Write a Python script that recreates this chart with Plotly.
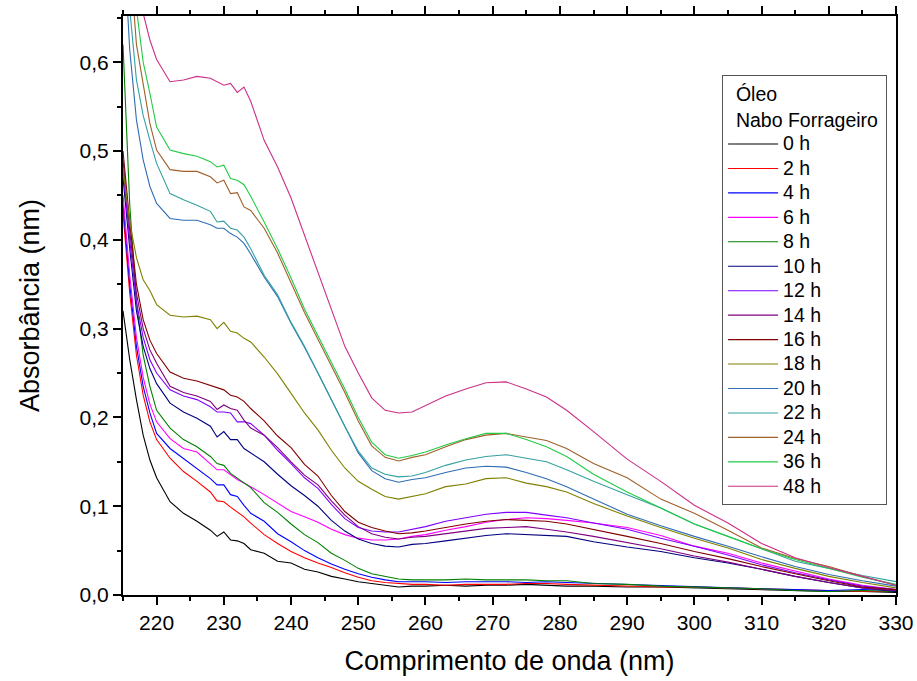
import plotly.graph_objects as go

wavelength = [215, 216, 217, 218, 219, 220, 222, 224, 226, 228, 229, 230, 231, 232, 233, 234,
              236, 238, 240, 242, 244, 246, 248, 250, 252, 254, 256, 258, 260,
              263, 266, 269, 272, 275, 278, 281, 285, 290, 295, 300, 305, 310, 315, 320, 325, 330]

h0 = [0.32, 0.265, 0.22, 0.18, 0.152, 0.132, 0.105, 0.092, 0.083, 0.073, 0.066, 0.071, 0.062, 0.061, 0.058, 0.051,
      0.047, 0.038, 0.036, 0.029, 0.026, 0.021, 0.018, 0.015, 0.013, 0.011, 0.009, 0.010, 0.010,
      0.011, 0.010, 0.011, 0.011, 0.012, 0.011, 0.010, 0.010, 0.009, 0.009, 0.008, 0.007, 0.006, 0.005, 0.004, 0.004, 0.003]
h2 = [0.43, 0.34, 0.27, 0.225, 0.195, 0.175, 0.154, 0.139, 0.128, 0.116, 0.106, 0.105, 0.099, 0.094, 0.088, 0.081,
      0.068, 0.058, 0.049, 0.042, 0.036, 0.031, 0.025, 0.020, 0.016, 0.014, 0.013, 0.012, 0.012,
      0.011, 0.012, 0.012, 0.012, 0.013, 0.013, 0.012, 0.011, 0.010, 0.009, 0.009, 0.008, 0.007, 0.006, 0.005, 0.004, 0.004]
h4 = [0.44, 0.35, 0.28, 0.235, 0.205, 0.182, 0.165, 0.154, 0.143, 0.131, 0.124, 0.124, 0.113, 0.111, 0.101, 0.092,
      0.083, 0.069, 0.060, 0.050, 0.042, 0.035, 0.029, 0.024, 0.020, 0.017, 0.015, 0.015, 0.015,
      0.014, 0.015, 0.015, 0.015, 0.014, 0.015, 0.014, 0.013, 0.012, 0.010, 0.009, 0.008, 0.007, 0.006, 0.005, 0.006, 0.005]
h6 = [0.45, 0.36, 0.29, 0.245, 0.215, 0.195, 0.176, 0.165, 0.161, 0.148, 0.141, 0.141, 0.135, 0.130, 0.126, 0.122,
      0.113, 0.103, 0.094, 0.088, 0.082, 0.074, 0.068, 0.064, 0.062, 0.062, 0.063, 0.066, 0.068,
      0.073, 0.077, 0.082, 0.085, 0.087, 0.086, 0.084, 0.081, 0.076, 0.067, 0.055, 0.047, 0.036, 0.027, 0.018, 0.011, 0.006]
h8 = [0.62, 0.44, 0.33, 0.27, 0.235, 0.208, 0.188, 0.175, 0.167, 0.156, 0.148, 0.146, 0.137, 0.132, 0.126, 0.121,
      0.104, 0.093, 0.080, 0.068, 0.059, 0.047, 0.039, 0.030, 0.024, 0.021, 0.018, 0.017, 0.017,
      0.017, 0.018, 0.017, 0.017, 0.017, 0.016, 0.016, 0.013, 0.012, 0.010, 0.009, 0.008, 0.007, 0.005, 0.004, 0.005, 0.004]
h10 = [0.47, 0.39, 0.32, 0.28, 0.255, 0.238, 0.216, 0.206, 0.199, 0.190, 0.178, 0.184, 0.175, 0.175, 0.165, 0.160,
       0.150, 0.136, 0.123, 0.112, 0.100, 0.084, 0.072, 0.063, 0.058, 0.055, 0.054, 0.057, 0.058,
       0.061, 0.064, 0.067, 0.069, 0.068, 0.067, 0.066, 0.060, 0.054, 0.049, 0.042, 0.036, 0.029, 0.021, 0.014, 0.008, 0.004]
h12 = [0.48, 0.40, 0.33, 0.29, 0.265, 0.25, 0.231, 0.224, 0.220, 0.212, 0.206, 0.206, 0.205, 0.195, 0.195, 0.193,
       0.180, 0.163, 0.148, 0.132, 0.120, 0.102, 0.086, 0.076, 0.072, 0.071, 0.071, 0.074, 0.077,
       0.083, 0.087, 0.091, 0.093, 0.093, 0.090, 0.087, 0.081, 0.074, 0.064, 0.055, 0.045, 0.034, 0.025, 0.017, 0.010, 0.006]
h14 = [0.49, 0.41, 0.34, 0.30, 0.276, 0.261, 0.235, 0.228, 0.224, 0.218, 0.209, 0.214, 0.210, 0.208, 0.197, 0.188,
       0.180, 0.166, 0.150, 0.135, 0.124, 0.106, 0.090, 0.077, 0.069, 0.065, 0.063, 0.065, 0.066,
       0.069, 0.072, 0.075, 0.076, 0.077, 0.074, 0.071, 0.066, 0.059, 0.052, 0.044, 0.037, 0.029, 0.021, 0.014, 0.008, 0.005]
h16 = [0.50, 0.42, 0.35, 0.31, 0.287, 0.272, 0.251, 0.244, 0.241, 0.236, 0.233, 0.231, 0.225, 0.223, 0.218, 0.210,
       0.196, 0.179, 0.166, 0.147, 0.134, 0.112, 0.094, 0.082, 0.076, 0.072, 0.069, 0.070, 0.072,
       0.076, 0.080, 0.083, 0.085, 0.084, 0.083, 0.080, 0.074, 0.066, 0.058, 0.049, 0.041, 0.032, 0.024, 0.016, 0.009, 0.006]
h18 = [0.48, 0.42, 0.38, 0.355, 0.343, 0.327, 0.315, 0.313, 0.314, 0.310, 0.300, 0.307, 0.297, 0.295, 0.289, 0.285,
       0.268, 0.249, 0.227, 0.205, 0.186, 0.163, 0.143, 0.128, 0.119, 0.111, 0.108, 0.111, 0.114,
       0.122, 0.125, 0.131, 0.132, 0.126, 0.122, 0.116, 0.103, 0.089, 0.076, 0.064, 0.053, 0.040, 0.030, 0.021, 0.014, 0.008]
h20 = [0.75, 0.614, 0.535, 0.49, 0.46, 0.441, 0.424, 0.422, 0.422, 0.417, 0.413, 0.413, 0.407, 0.403, 0.396, 0.384,
       0.358, 0.336, 0.306, 0.279, 0.250, 0.220, 0.190, 0.160, 0.140, 0.131, 0.127, 0.130, 0.132,
       0.138, 0.143, 0.145, 0.144, 0.138, 0.131, 0.122, 0.108, 0.091, 0.078, 0.066, 0.055, 0.043, 0.032, 0.023, 0.016, 0.010]
h22 = [0.80, 0.66, 0.58, 0.54, 0.512, 0.486, 0.452, 0.445, 0.439, 0.432, 0.420, 0.421, 0.413, 0.411, 0.403, 0.390,
       0.360, 0.338, 0.307, 0.280, 0.250, 0.220, 0.190, 0.162, 0.143, 0.136, 0.133, 0.134, 0.138,
       0.146, 0.152, 0.156, 0.158, 0.154, 0.150, 0.141, 0.128, 0.113, 0.098, 0.080, 0.066, 0.052, 0.038, 0.030, 0.022, 0.015]
h24 = [0.90, 0.72, 0.62, 0.576, 0.531, 0.501, 0.479, 0.477, 0.477, 0.471, 0.464, 0.467, 0.452, 0.453, 0.437, 0.433,
       0.413, 0.385, 0.352, 0.318, 0.288, 0.258, 0.228, 0.196, 0.168, 0.155, 0.151, 0.155, 0.158,
       0.167, 0.175, 0.180, 0.182, 0.178, 0.174, 0.165, 0.148, 0.132, 0.108, 0.092, 0.073, 0.053, 0.041, 0.032, 0.021, 0.011]
h36 = [0.95, 0.78, 0.66, 0.600, 0.565, 0.527, 0.501, 0.497, 0.494, 0.488, 0.482, 0.484, 0.469, 0.467, 0.462, 0.449,
       0.420, 0.390, 0.357, 0.322, 0.292, 0.262, 0.232, 0.200, 0.172, 0.158, 0.154, 0.157, 0.161,
       0.169, 0.176, 0.182, 0.182, 0.175, 0.167, 0.156, 0.136, 0.116, 0.098, 0.080, 0.066, 0.052, 0.040, 0.030, 0.020, 0.012]
h48 = [1.00, 0.85, 0.72, 0.655, 0.625, 0.603, 0.578, 0.580, 0.584, 0.582, 0.578, 0.574, 0.576, 0.566, 0.572, 0.556,
       0.512, 0.482, 0.447, 0.405, 0.365, 0.322, 0.280, 0.250, 0.222, 0.208, 0.205, 0.206, 0.213,
       0.224, 0.232, 0.239, 0.240, 0.232, 0.223, 0.208, 0.184, 0.153, 0.128, 0.101, 0.081, 0.058, 0.042, 0.031, 0.021, 0.011]

series_names = ["0 h", "2 h", "4 h", "6 h", "8 h", "10 h", "12 h", "14 h", "16 h",
                "18 h", "20 h", "22 h", "24 h", "36 h", "48 h"]
series_values = [h0, h2, h4, h6, h8, h10, h12, h14, h16, h18, h20, h22, h24, h36, h48]
series_colors = ["#000000", "#FF0000", "#0000FF", "#FF00FF", "#008000", "#000080", "#8000FF",
                 "#800080", "#800000", "#808000", "#2F6DB5", "#34A0A0", "#A0602A", "#20CC45", "#CC2F88"]

x_ticks = [220, 230, 240, 250, 260, 270, 280, 290, 300, 310, 320, 330]
y_ticks = [0.0, 0.1, 0.2, 0.3, 0.4, 0.5, 0.6]

FONT = "Liberation Sans, Arial, sans-serif"

fig = go.Figure()
for name, vals, col in zip(series_names, series_values, series_colors):
    fig.add_trace(go.Scatter(x=wavelength, y=vals, mode="lines",
                             name='<span style="font-size:19.5px">' + name + '</span>',
                             line=dict(color=col, width=1.1)))

fig.update_layout(
    width=917, height=681,
    autosize=False,
    margin=dict(l=123, r=21, t=16, b=86, autoexpand=False),
    paper_bgcolor="white", plot_bgcolor="white",
    separators=",.",
    font=dict(family=FONT, color="black", size=20),
    showlegend=True,
    legend=dict(
        x=0.775, y=0.898, xanchor="left", yanchor="top",
        bgcolor="white", bordercolor="#555555", borderwidth=1,
        itemwidth=50,
        font=dict(family=FONT, size=16.5, color="black"),
        title=dict(text="\u00a0\u00a0Óleo<br>\u00a0\u00a0Nabo Forrageiro\u00a0",
                   font=dict(family=FONT, size=19.5, color="black"), side="top"),
        tracegroupgap=0,
    ),
)

fig.update_xaxes(
    range=[215, 330], tickmode="array", tickvals=x_ticks,
    ticks="outside", ticklen=8, tickwidth=2, tickcolor="black",
    showline=True, linewidth=2, linecolor="black", mirror="ticks",
    showgrid=False, zeroline=False, ticklabeloverflow="allow",
    tickfont=dict(family=FONT, size=21, color="black"),
    minor=dict(dtick=5, tick0=215, ticks="outside", ticklen=4, tickwidth=2, tickcolor="black", showgrid=False),
    title=dict(text="Comprimento de onda (nm)", font=dict(family=FONT, size=27, color="black"), standoff=18),
)
fig.update_yaxes(
    range=[0, 0.652], tickmode="array", tickvals=y_ticks, tickformat=".1f",
    ticks="outside", ticklen=8, tickwidth=2, tickcolor="black",
    showline=True, linewidth=2, linecolor="black", mirror=True,
    showgrid=False, zeroline=False, ticklabeloverflow="allow",
    tickfont=dict(family=FONT, size=21, color="black"),
    minor=dict(dtick=0.05, tick0=0, ticks="outside", ticklen=4, tickwidth=2, tickcolor="black", showgrid=False),
    title=dict(text="Absorbância (nm)", font=dict(family=FONT, size=27, color="black"), standoff=32),
)

fig.write_html("out.html")
